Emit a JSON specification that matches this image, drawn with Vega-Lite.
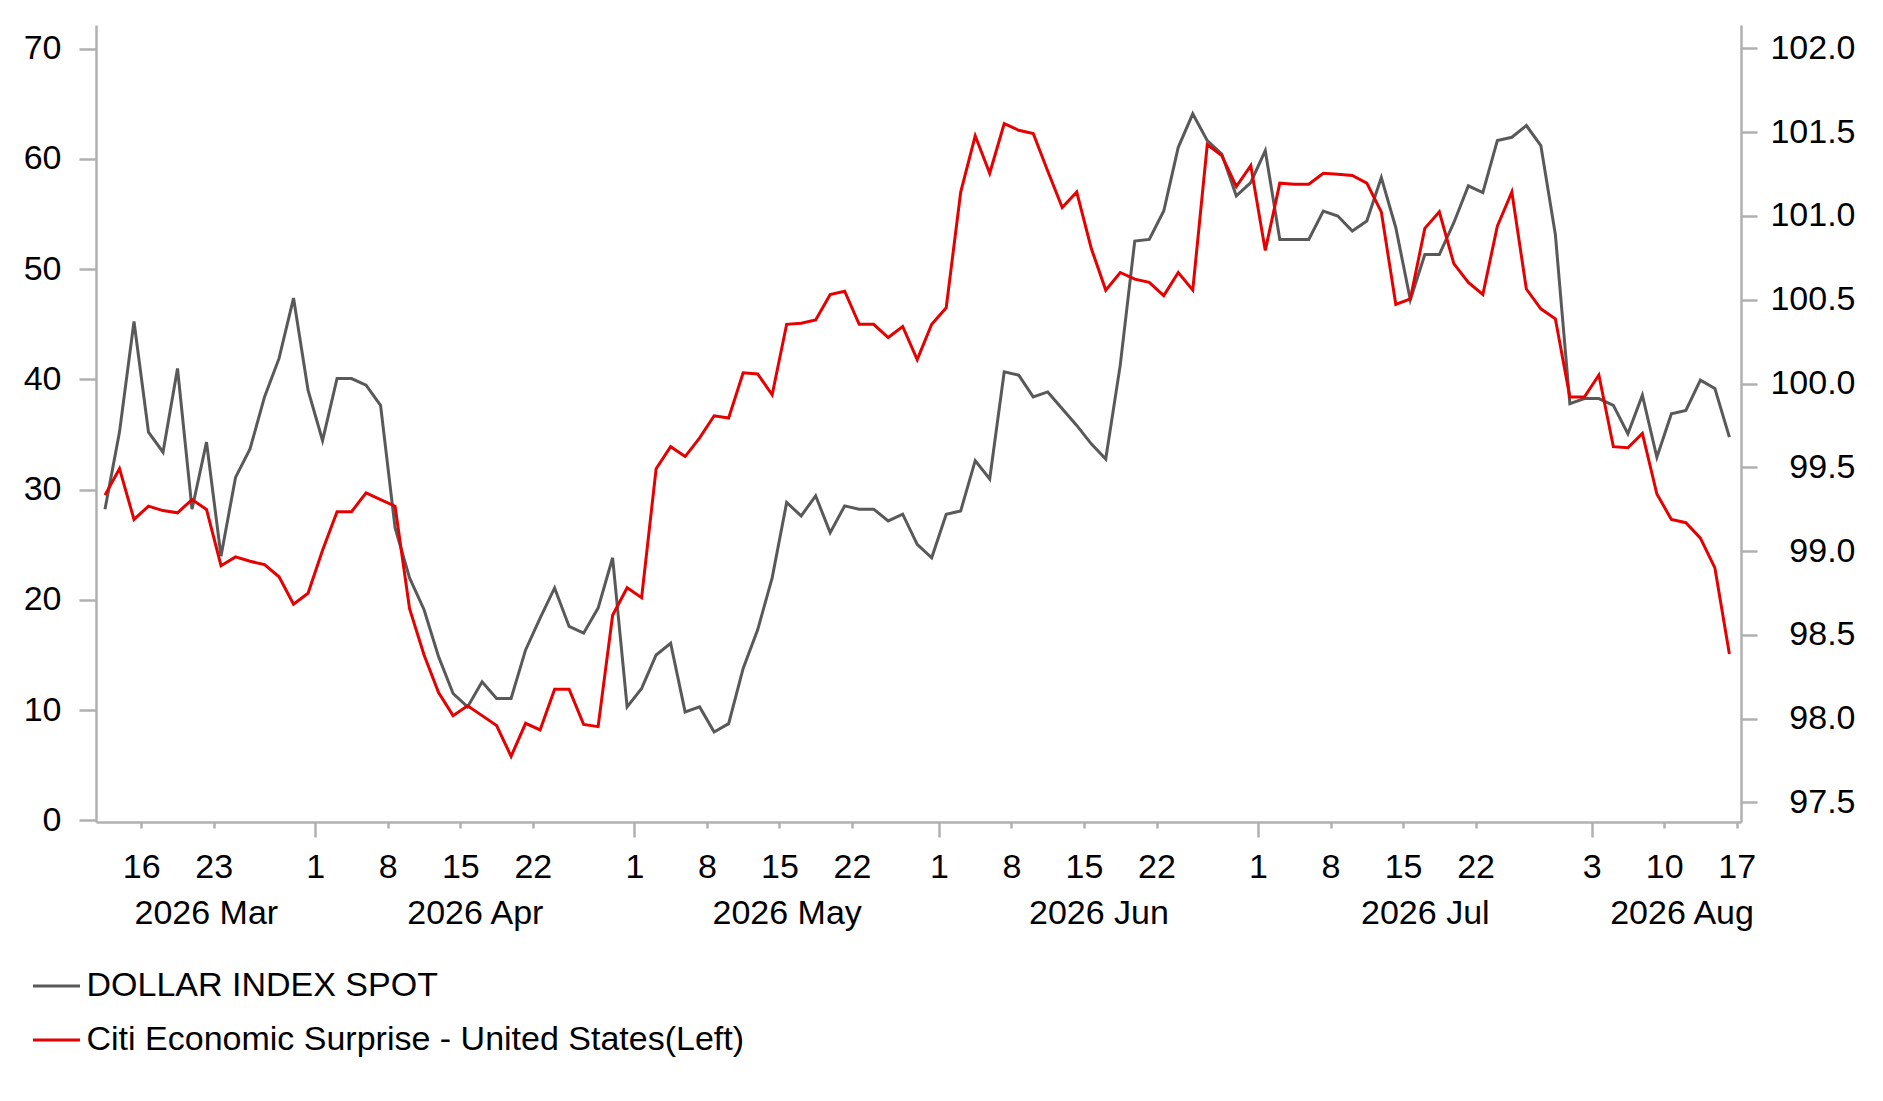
{
  "$schema": "https://vega.github.io/schema/vega-lite/v6.json",
  "description": "Dollar index spot vs Citi Economic Surprise Index (US), business-day axis",
  "width": 1645,
  "height": 797,
  "autosize": {"type": "none"},
  "padding": {"left": 96, "top": 25, "right": 142, "bottom": 279},
  "background": "white",
  "config": {
    "view": {"stroke": null},
    "font": "Liberation Sans",
    "axis": {
      "grid": false,
      "domainColor": "#b0b0b0",
      "domainWidth": 2.5,
      "tickColor": "#b0b0b0",
      "tickWidth": 2.5,
      "labelColor": "#000000",
      "labelFont": "Liberation Sans",
      "labelFontSize": 34,
      "title": null
    },
    "legend": {
      "orient": "none",
      "legendX": -64.5,
      "legendY": 936,
      "direction": "vertical",
      "symbolType": "stroke",
      "symbolSize": 2209,
      "symbolStrokeWidth": 3,
      "labelFont": "Liberation Sans",
      "labelFontSize": 34,
      "labelColor": "#000000",
      "labelOffset": 5,
      "labelLimit": 0,
      "rowPadding": 12,
      "padding": 0
    }
  },
  "data": {
    "values": [
      {"date": "2026-03-11", "cesi": 29.5, "dxy": 99.25},
      {"date": "2026-03-12", "cesi": 31.9, "dxy": 99.71},
      {"date": "2026-03-13", "cesi": 27.3, "dxy": 100.37},
      {"date": "2026-03-16", "cesi": 28.5, "dxy": 99.71},
      {"date": "2026-03-17", "cesi": 28.1, "dxy": 99.59},
      {"date": "2026-03-18", "cesi": 27.9, "dxy": 100.09},
      {"date": "2026-03-19", "cesi": 29.1, "dxy": 99.25},
      {"date": "2026-03-20", "cesi": 28.2, "dxy": 99.65},
      {"date": "2026-03-23", "cesi": 23.1, "dxy": 98.97},
      {"date": "2026-03-24", "cesi": 23.9, "dxy": 99.44},
      {"date": "2026-03-25", "cesi": 23.5, "dxy": 99.61},
      {"date": "2026-03-26", "cesi": 23.2, "dxy": 99.92},
      {"date": "2026-03-27", "cesi": 22.1, "dxy": 100.15},
      {"date": "2026-03-30", "cesi": 19.6, "dxy": 100.51},
      {"date": "2026-03-31", "cesi": 20.6, "dxy": 99.96},
      {"date": "2026-04-01", "cesi": 24.5, "dxy": 99.66},
      {"date": "2026-04-02", "cesi": 28.0, "dxy": 100.03},
      {"date": "2026-04-03", "cesi": 28.0, "dxy": 100.03},
      {"date": "2026-04-06", "cesi": 29.7, "dxy": 99.99},
      {"date": "2026-04-07", "cesi": 29.1, "dxy": 99.87},
      {"date": "2026-04-08", "cesi": 28.5, "dxy": 99.14},
      {"date": "2026-04-09", "cesi": 19.2, "dxy": 98.84},
      {"date": "2026-04-10", "cesi": 15.0, "dxy": 98.65},
      {"date": "2026-04-13", "cesi": 11.6, "dxy": 98.37},
      {"date": "2026-04-14", "cesi": 9.5, "dxy": 98.15},
      {"date": "2026-04-15", "cesi": 10.4, "dxy": 98.07},
      {"date": "2026-04-16", "cesi": 9.5, "dxy": 98.22},
      {"date": "2026-04-17", "cesi": 8.6, "dxy": 98.12},
      {"date": "2026-04-20", "cesi": 5.8, "dxy": 98.12},
      {"date": "2026-04-21", "cesi": 8.8, "dxy": 98.41},
      {"date": "2026-04-22", "cesi": 8.2, "dxy": 98.6},
      {"date": "2026-04-23", "cesi": 11.9, "dxy": 98.78},
      {"date": "2026-04-24", "cesi": 11.9, "dxy": 98.55},
      {"date": "2026-04-27", "cesi": 8.7, "dxy": 98.51},
      {"date": "2026-04-28", "cesi": 8.5, "dxy": 98.66},
      {"date": "2026-04-29", "cesi": 18.6, "dxy": 98.96},
      {"date": "2026-04-30", "cesi": 21.1, "dxy": 98.07},
      {"date": "2026-05-01", "cesi": 20.2, "dxy": 98.18},
      {"date": "2026-05-04", "cesi": 31.9, "dxy": 98.38},
      {"date": "2026-05-05", "cesi": 33.9, "dxy": 98.45},
      {"date": "2026-05-06", "cesi": 33.0, "dxy": 98.04},
      {"date": "2026-05-07", "cesi": 34.7, "dxy": 98.07},
      {"date": "2026-05-08", "cesi": 36.7, "dxy": 97.92},
      {"date": "2026-05-11", "cesi": 36.5, "dxy": 97.97},
      {"date": "2026-05-12", "cesi": 40.6, "dxy": 98.3},
      {"date": "2026-05-13", "cesi": 40.5, "dxy": 98.53},
      {"date": "2026-05-14", "cesi": 38.6, "dxy": 98.84},
      {"date": "2026-05-15", "cesi": 45.0, "dxy": 99.29},
      {"date": "2026-05-18", "cesi": 45.1, "dxy": 99.21},
      {"date": "2026-05-19", "cesi": 45.4, "dxy": 99.33},
      {"date": "2026-05-20", "cesi": 47.7, "dxy": 99.11},
      {"date": "2026-05-21", "cesi": 48.0, "dxy": 99.27},
      {"date": "2026-05-22", "cesi": 45.0, "dxy": 99.25},
      {"date": "2026-05-25", "cesi": 45.0, "dxy": 99.25},
      {"date": "2026-05-26", "cesi": 43.8, "dxy": 99.18},
      {"date": "2026-05-27", "cesi": 44.8, "dxy": 99.22},
      {"date": "2026-05-28", "cesi": 41.8, "dxy": 99.04},
      {"date": "2026-05-29", "cesi": 45.0, "dxy": 98.96},
      {"date": "2026-06-01", "cesi": 46.5, "dxy": 99.22},
      {"date": "2026-06-02", "cesi": 57.0, "dxy": 99.24},
      {"date": "2026-06-03", "cesi": 62.1, "dxy": 99.54},
      {"date": "2026-06-04", "cesi": 58.7, "dxy": 99.43},
      {"date": "2026-06-05", "cesi": 63.2, "dxy": 100.07},
      {"date": "2026-06-08", "cesi": 62.6, "dxy": 100.05},
      {"date": "2026-06-09", "cesi": 62.3, "dxy": 99.92},
      {"date": "2026-06-10", "cesi": 58.9, "dxy": 99.95},
      {"date": "2026-06-11", "cesi": 55.6, "dxy": 99.85},
      {"date": "2026-06-12", "cesi": 57.0, "dxy": 99.75},
      {"date": "2026-06-15", "cesi": 51.9, "dxy": 99.64},
      {"date": "2026-06-16", "cesi": 48.1, "dxy": 99.55},
      {"date": "2026-06-17", "cesi": 49.7, "dxy": 100.11},
      {"date": "2026-06-18", "cesi": 49.1, "dxy": 100.85},
      {"date": "2026-06-19", "cesi": 48.8, "dxy": 100.86},
      {"date": "2026-06-22", "cesi": 47.6, "dxy": 101.03},
      {"date": "2026-06-23", "cesi": 49.7, "dxy": 101.41},
      {"date": "2026-06-24", "cesi": 48.1, "dxy": 101.61},
      {"date": "2026-06-25", "cesi": 61.3, "dxy": 101.45},
      {"date": "2026-06-26", "cesi": 60.3, "dxy": 101.37},
      {"date": "2026-06-29", "cesi": 57.5, "dxy": 101.12},
      {"date": "2026-06-30", "cesi": 59.4, "dxy": 101.2},
      {"date": "2026-07-01", "cesi": 51.7, "dxy": 101.39},
      {"date": "2026-07-02", "cesi": 57.8, "dxy": 100.86},
      {"date": "2026-07-03", "cesi": 57.7, "dxy": 100.86},
      {"date": "2026-07-06", "cesi": 57.7, "dxy": 100.86},
      {"date": "2026-07-07", "cesi": 58.7, "dxy": 101.03},
      {"date": "2026-07-08", "cesi": 58.6, "dxy": 101.0},
      {"date": "2026-07-09", "cesi": 58.5, "dxy": 100.91},
      {"date": "2026-07-10", "cesi": 57.8, "dxy": 100.97},
      {"date": "2026-07-13", "cesi": 55.2, "dxy": 101.23},
      {"date": "2026-07-14", "cesi": 46.8, "dxy": 100.93},
      {"date": "2026-07-15", "cesi": 47.3, "dxy": 100.5},
      {"date": "2026-07-16", "cesi": 53.7, "dxy": 100.77},
      {"date": "2026-07-17", "cesi": 55.2, "dxy": 100.77},
      {"date": "2026-07-20", "cesi": 50.5, "dxy": 100.96},
      {"date": "2026-07-21", "cesi": 48.8, "dxy": 101.18},
      {"date": "2026-07-22", "cesi": 47.7, "dxy": 101.14},
      {"date": "2026-07-23", "cesi": 53.9, "dxy": 101.45},
      {"date": "2026-07-24", "cesi": 57.0, "dxy": 101.47},
      {"date": "2026-07-27", "cesi": 48.2, "dxy": 101.54},
      {"date": "2026-07-28", "cesi": 46.4, "dxy": 101.42},
      {"date": "2026-07-29", "cesi": 45.5, "dxy": 100.89},
      {"date": "2026-07-30", "cesi": 38.4, "dxy": 99.88},
      {"date": "2026-07-31", "cesi": 38.4, "dxy": 99.91},
      {"date": "2026-08-03", "cesi": 40.4, "dxy": 99.91},
      {"date": "2026-08-04", "cesi": 33.9, "dxy": 99.87},
      {"date": "2026-08-05", "cesi": 33.8, "dxy": 99.7},
      {"date": "2026-08-06", "cesi": 35.1, "dxy": 99.93},
      {"date": "2026-08-07", "cesi": 29.6, "dxy": 99.56},
      {"date": "2026-08-10", "cesi": 27.3, "dxy": 99.82},
      {"date": "2026-08-11", "cesi": 27.0, "dxy": 99.84},
      {"date": "2026-08-12", "cesi": 25.6, "dxy": 100.02},
      {"date": "2026-08-13", "cesi": 22.9, "dxy": 99.97},
      {"date": "2026-08-14", "cesi": 15.1, "dxy": 99.68}
    ]
  },
  "transform": [
    {"window": [{"op": "row_number", "as": "n"}], "sort": [{"field": "date"}]}
  ],
  "layer": [
    {
      "mark": {"type": "line", "strokeWidth": 3},
      "encoding": {
        "x": {
          "field": "n",
          "type": "quantitative",
          "scale": {"domain": [0.38, 113.8], "nice": false, "zero": false},
          "axis": {
            "orient": "bottom",
            "values": [7.95, 26.5, 48, 69.5, 92, 109.7],
            "labelExpr": "['2026 Mar','2026 Apr','2026 May','2026 Jun','2026 Jul','2026 Aug'][indexof([7.95,26.5,48,69.5,92,109.7], datum.value)]",
            "ticks": false,
            "domain": false,
            "labelPadding": 74,
            "labelFlush": false,
            "labelOverlap": false,
            "labelBound": false
          }
        },
        "y": {
          "field": "dxy",
          "type": "quantitative",
          "scale": {"domain": [97.383, 102.14], "nice": false, "zero": false},
          "axis": {
            "orient": "right",
            "values": [97.5, 98, 98.5, 99, 99.5, 100, 100.5, 101, 101.5, 102],
            "format": ".1f",
            "tickSize": 16,
            "labelAlign": "right",
            "labelPadding": 98
          }
        },
        "color": {
          "datum": "DOLLAR INDEX SPOT",
          "type": "nominal",
          "scale": {
            "domain": ["DOLLAR INDEX SPOT", "Citi Economic Surprise - United States(Left)"],
            "range": ["#595959", "#e60000"]
          },
          "legend": {"title": null}
        }
      }
    },
    {
      "mark": {"type": "line", "strokeWidth": 3},
      "encoding": {
        "x": {
          "field": "n",
          "type": "quantitative",
          "scale": {"domain": [0.38, 113.8], "nice": false, "zero": false},
          "axis": {
            "orient": "bottom",
            "values": [3.5, 8.5, 15.5, 20.5, 25.5, 30.5, 37.5, 42.5, 47.5, 52.5, 58.5, 63.5, 68.5, 73.5, 80.5, 85.5, 90.5, 95.5, 103.5, 108.5, 113.5],
            "labelExpr": "['16','23','1','8','15','22','1','8','15','22','1','8','15','22','1','8','15','22','3','10','17'][indexof([3.5,8.5,15.5,20.5,25.5,30.5,37.5,42.5,47.5,52.5,58.5,63.5,68.5,73.5,80.5,85.5,90.5,95.5,103.5,108.5,113.5], datum.value)]",
            "tickSize": {"condition": {"test": "indexof([15.5,37.5,58.5,80.5,103.5], datum.value) >= 0", "value": 15}, "value": 6},
            "labelPadding": {"condition": {"test": "indexof([15.5,37.5,58.5,80.5,103.5], datum.value) >= 0", "value": 13}, "value": 22},
            "labelFlush": false,
            "labelOverlap": false,
            "labelBound": false
          }
        },
        "y": {
          "field": "cesi",
          "type": "quantitative",
          "scale": {"domain": [-0.15, 72.15], "nice": false, "zero": false},
          "axis": {
            "orient": "left",
            "values": [0, 10, 20, 30, 40, 50, 60, 70],
            "tickSize": 17,
            "labelPadding": 18
          }
        },
        "color": {
          "datum": "Citi Economic Surprise - United States(Left)",
          "type": "nominal"
        }
      }
    }
  ],
  "resolve": {
    "scale": {"y": "independent"},
    "axis": {"x": "independent", "y": "independent"}
  }
}
